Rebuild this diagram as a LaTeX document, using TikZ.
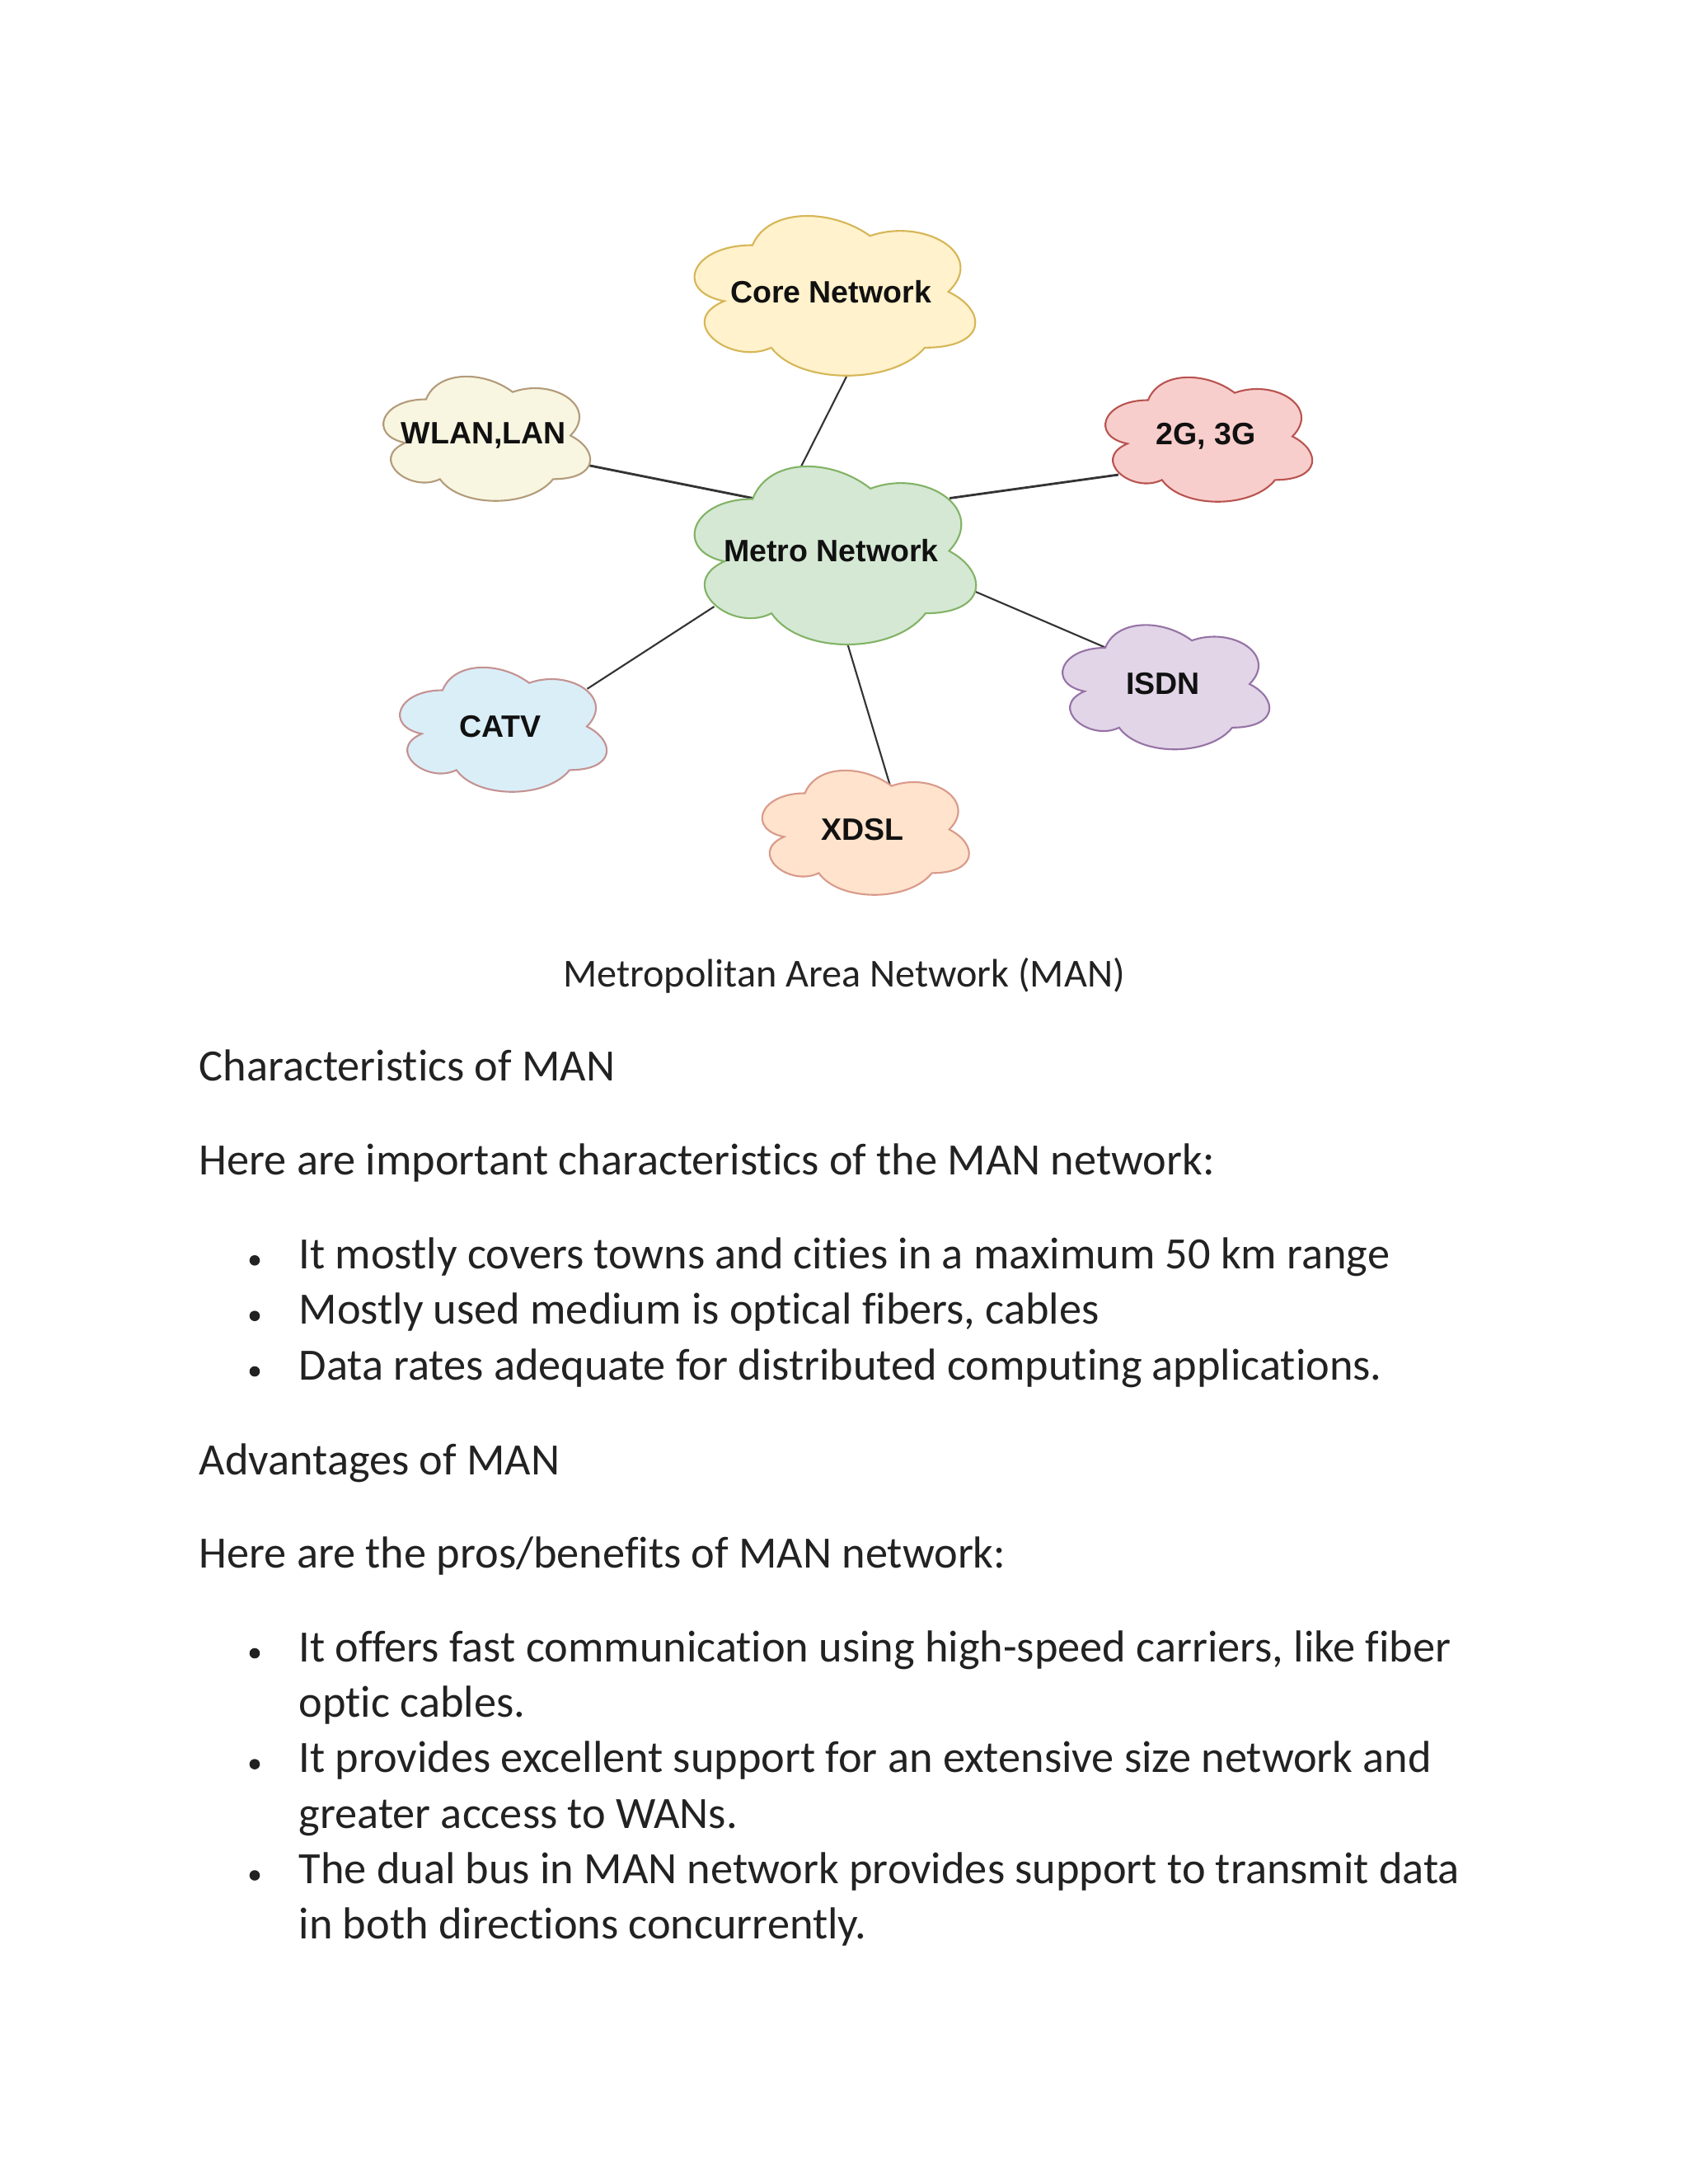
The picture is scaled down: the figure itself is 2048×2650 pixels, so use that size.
\documentclass[tikz,border=0pt]{standalone}
\usepackage{fontspec}
\setmainfont{Carlito}[Ligatures=NoCommon]
\newfontfamily\arialfam{Liberation Sans}
\usetikzlibrary{calc}
\definecolor{txt}{HTML}{222222}
\definecolor{lbl}{HTML}{111111}
\definecolor{linec}{HTML}{333333}
\definecolor{coreF}{HTML}{FFF2CC}\definecolor{coreD}{HTML}{D6B656}
\definecolor{wlanF}{HTML}{F8F6E0}\definecolor{wlanD}{HTML}{B39B7A}
\definecolor{gF}{HTML}{F8CECC}\definecolor{gD}{HTML}{B85450}
\definecolor{metroF}{HTML}{D5E8D4}\definecolor{metroD}{HTML}{82B366}
\definecolor{isdnF}{HTML}{E1D5E7}\definecolor{isdnD}{HTML}{9673A6}
\definecolor{catvF}{HTML}{DAEEF8}\definecolor{catvD}{HTML}{C49292}
\definecolor{xdslF}{HTML}{FFE3CC}\definecolor{xdslD}{HTML}{D99A8A}
\newcommand\bodyfnt{\fontsize{15.45pt}{18pt}\selectfont}
\newcommand\capfnt{\fontsize{13.7pt}{16pt}\selectfont}
\newcommand\cldfnt{\arialfam\bfseries\fontsize{10.67pt}{12pt}\selectfont}
\pgfdeclarelayer{bg}
\pgfdeclarelayer{clouds}
\pgfsetlayers{bg,clouds,main}
\newcommand\drawcloud[5]{%
  \path[fill=#4, draw=#5, line width=0.6pt, shift={(#1.north west)}, x=#2cm, y=-#3cm]
    (0.25,0.25) .. controls (0.05,0.25) and (0,0.5) .. (0.16,0.55)
    .. controls (0,0.66) and (0.18,0.9) .. (0.31,0.8)
    .. controls (0.4,1) and (0.7,1) .. (0.8,0.8)
    .. controls (1,0.8) and (1,0.6) .. (0.875,0.5)
    .. controls (1,0.3) and (0.8,0.1) .. (0.625,0.2)
    .. controls (0.5,0.05) and (0.3,0.05) .. (0.25,0.25) -- cycle;}
\tikzset{
  body/.style={font=\bodyfnt, text=txt, inner sep=0pt, anchor=base west},
  capt/.style={font=\capfnt, text=txt, inner sep=0pt, anchor=base},
  cloudbox/.style={font=\cldfnt, text=lbl, inner sep=0pt, outer sep=0pt, align=center},
  smallcloud/.style={cloudbox, minimum width=2.8cm, minimum height=1.76cm},
  link/.style={draw=linec, line width=0.6pt},
  thicklink/.style={draw=linec, line width=0.8pt},
  dot/.style={fill=txt},
}
\begin{document}
\begin{tikzpicture}[x=0.01cm, y=-0.01cm]
\useasboundingbox (0,0) rectangle (2048,2650);

% cloud nodes
\node[cloudbox, minimum width=3.8cm, minimum height=2.26cm] (core) at (1008,354) {Core Network};
\node[cloudbox, minimum width=3.81cm, minimum height=2.52cm] (metro) at (1008.5,668.5) {Metro Network};
\node[smallcloud] (wlan) at (587,528.5) {WLAN,LAN};
\node[smallcloud] (g23) at (1463,529.5) {2G, 3G};
\node[smallcloud] (isdn) at (1411,830) {ISDN};
\node[smallcloud] (catv) at (607,881.5) {CATV};
\node[smallcloud] (xdsl) at (1046.6,1006.5) {XDSL};

\begin{pgfonlayer}{clouds}
  \drawcloud{core}{3.8}{2.26}{coreF}{coreD}
  \drawcloud{metro}{3.81}{2.52}{metroF}{metroD}
  \drawcloud{wlan}{2.8}{1.76}{wlanF}{wlanD}
  \drawcloud{g23}{2.8}{1.76}{gF}{gD}
  \drawcloud{isdn}{2.8}{1.76}{isdnF}{isdnD}
  \drawcloud{catv}{2.8}{1.76}{catvF}{catvD}
  \drawcloud{xdsl}{2.8}{1.76}{xdslF}{xdslD}
\end{pgfonlayer}

\begin{pgfonlayer}{bg}
  \draw[link] ($(core.center)+(19,103)$) -- ($(metro.center)+(-36.5,-102.5)$);
  \draw[thicklink] ($(wlan.center)+(126.5,36)$) -- ($(metro.center)+(-95,-64)$);
  \draw[thicklink] ($(g23.center)+(-106,46.5)$) -- ($(metro.center)+(143.5,-64)$);
  \draw[link] ($(metro.center)+(174,49)$) -- ($(isdn.center)+(-69,-44)$);
  \draw[link] ($(metro.center)+(-142,67.5)$) -- ($(catv.center)+(105.5,-45.7)$);
  \draw[link] ($(metro.center)+(20,113.5)$) -- ($(xdsl.center)+(33,-54.5)$);
\end{pgfonlayer}

% caption and text
\node[capt] (cap) at (1024,1197) {Metropolitan Area Network (MAN)};
\node[body] (h1) at (241,1311.7) {Characteristics of MAN};
\node[body] (p1) at (241,1425) {Here are important characteristics of the MAN network:};
\node[body] (a1) at (362,1539.3) {It mostly covers towns and cities in a maximum 50 km range};
\node[body] (a2) at (362,1606.7) {Mostly used medium is optical fibers, cables};
\node[body] (a3) at (362,1674) {Data rates adequate for distributed computing applications.};
\fill[dot] (309,1529.3) circle (6.3);
\fill[dot] (309,1596.7) circle (6.3);
\fill[dot] (309,1664) circle (6.3);

\node[body] (h2) at (241,1789) {Advantages of MAN};
\node[body] (p2) at (241,1902.7) {Here are the pros/benefits of MAN network:};
\node[body] (b1) at (362,2016) {It offers fast communication using high-speed carriers, like fiber};
\node[body] (b1b) at (362,2083.3) {optic cables.};
\node[body] (b2) at (362,2150.6) {It provides excellent support for an extensive size network and};
\node[body] (b2b) at (362,2218) {greater access to WANs.};
\node[body] (b3) at (362,2285.5) {The dual bus in MAN network provides support to transmit data};
\node[body] (b3b) at (362,2352.7) {in both directions concurrently.};
\fill[dot] (309,2006) circle (6.3);
\fill[dot] (309,2140.6) circle (6.3);
\fill[dot] (309,2275.5) circle (6.3);
\end{tikzpicture}
\end{document}
